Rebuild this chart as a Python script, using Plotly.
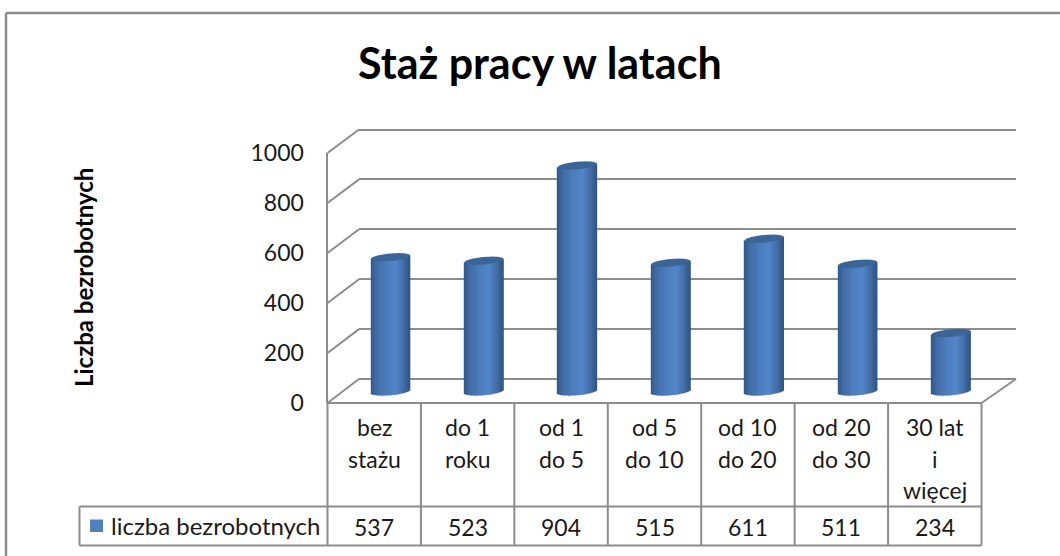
import math
import plotly.graph_objects as go

CATEGORY_LINES = [["bez", "stażu"], ["do 1", "roku"], ["od 1", "do 5"], ["od 5", "do 10"],
                  ["od 10", "do 20"], ["od 20", "do 30"], ["30 lat", "i", "więcej"]]
VALUES = [537, 523, 904, 515, 611, 511, 234]
SERIES_NAME = "liczba bezrobotnych"
TITLE = "Staż pracy w latach"
Y_TITLE = "Liczba bezrobotnych"
Y_TICKS = [0, 200, 400, 600, 800, 1000]

W, H = 1060, 556
FONT = "Lato"
GRID = "#8c8c8c"
TXT = "#1a1a1a"


def fx(p):
    return p / W


def fy(p):
    return 1 - p / H


STOPS = [(0.0, (50, 88, 135)), (0.15, (66, 108, 165)), (0.4, (76, 125, 190)),
         (0.65, (82, 133, 200)), (0.85, (66, 108, 165)), (1.0, (48, 84, 128))]


def shade(f):
    for (a, ca), (b, cb) in zip(STOPS, STOPS[1:]):
        if f <= b:
            k = (f - a) / (b - a)
            c = [round(ca[i] + (cb[i] - ca[i]) * k) for i in range(3)]
            return f"rgb({c[0]},{c[1]},{c[2]})"
    return "rgb(48,84,128)"


HALF = 0.21      # half bar width in category units
CAP_H = 15       # ellipse half height in value units
TILT = 7         # ellipse tilt in value units
N = 26

fig = go.Figure()
xs = list(range(len(VALUES)))
# keeps the back-wall axes alive so that their gridlines are drawn
fig.add_trace(go.Scatter(x=xs, y=VALUES, mode="markers", marker=dict(opacity=0),
                         xaxis="x", yaxis="y", showlegend=False, hoverinfo="skip"))
for i in range(N):
    t0 = -1 + 2 * i / N
    t1 = -1 + 2 * (i + 1) / N
    tm = (t0 + t1) / 2
    base = -CAP_H * math.sqrt(max(0, 1 - tm * tm)) + TILT * tm
    fig.add_trace(go.Bar(
        x=xs, y=[v + TILT * tm - base for v in VALUES], base=base,
        offset=HALF * t0, width=HALF * (t1 - t0) * 1.12,
        marker=dict(color=shade((tm + 1) / 2), line=dict(width=0)),
        xaxis="x3", yaxis="y3", showlegend=False, hoverinfo="skip"))

shapes = []


def line(x0, y0, x1, y1, xref="paper", yref="paper", width=2):
    shapes.append(dict(type="line", x0=x0, y0=y0, x1=x1, y1=y1, xref=xref, yref=yref,
                       line=dict(color=GRID, width=width), layer="below"))


# chart frame
line(fx(6), fy(13), fx(1060), fy(13), width=2.5)
line(fx(6), fy(13), fx(6), fy(556), width=2.5)

# wall / floor diagonals
FRONT_L, FRONT_R, BACK_L, BACK_R = 327.5, 981.5, 359, 1016
for v in Y_TICKS:
    f = v / 1000
    line(fx(FRONT_L), fy(403 - 250 * f), fx(BACK_L), fy(379 - 249.5 * f))
line(fx(FRONT_R), fy(403), fx(BACK_R), fy(379))

# data table
T_MID, T_BOT = 506.5, 545.5
BAND = (FRONT_R - FRONT_L) / len(VALUES)
for k in range(len(VALUES) + 1):
    px = FRONT_L + k * BAND
    line(fx(px), fy(403), fx(px), fy(T_BOT))
line(fx(FRONT_L), fy(403), fx(FRONT_R), fy(403))
line(fx(79.5), fy(T_MID), fx(FRONT_R), fy(T_MID))
line(fx(79.5), fy(T_BOT), fx(FRONT_R), fy(T_BOT))
line(fx(79.5), fy(T_MID), fx(79.5), fy(T_BOT))
shapes.append(dict(type="rect", x0=fx(90), x1=fx(103), y0=fy(519.5), y1=fy(532),
                   xref="paper", yref="paper", fillcolor="#4f81bd", line=dict(width=0)))

# cylinder tops
for x, v in zip(xs, VALUES):
    pts = []
    for j in range(40):
        a = 2 * math.pi * j / 40
        pts.append((x + HALF * math.cos(a), v + CAP_H * math.sin(a) + TILT * math.cos(a)))
    path = "M" + " L".join(f"{p:.4f},{q:.2f}" for p, q in pts) + " Z"
    shapes.append(dict(type="path", path=path, xref="x3", yref="y3",
                       fillcolor="#3a6596", line=dict(width=0), layer="above"))

TS = 23
ann = []
for x, lines_, v in zip(xs, CATEGORY_LINES, VALUES):
    for n, s in enumerate(lines_):
        ann.append(dict(x=x, xref="x2", y=fy(427 + 31.5 * n), yref="paper", text=s, showarrow=False,
                        xanchor="center", yanchor="middle", font=dict(family=FONT, size=TS, color=TXT)))
    ann.append(dict(x=x, xref="x2", y=fy(527), yref="paper", text=str(v), showarrow=False,
                    xanchor="center", yanchor="middle", font=dict(family=FONT, size=TS, color=TXT)))
ann.append(dict(x=fx(109), y=fy(525.5), xref="paper", yref="paper", text=SERIES_NAME, showarrow=False,
                xanchor="left", yanchor="middle", font=dict(family=FONT, size=24, color=TXT)))
ann.append(dict(x=fx(83), y=fy(278), xref="paper", yref="paper", text=f"<b>{Y_TITLE}</b>", showarrow=False,
                textangle=-90, xanchor="center", yanchor="middle", font=dict(family=FONT, size=24, color="#000")))
ann.append(dict(x=fx(540), y=fy(63), xref="paper", yref="paper", text=f"<b>{TITLE}</b>", showarrow=False,
                xanchor="center", yanchor="middle", font=dict(family=FONT, size=43, color="#000")))

xr = [-0.5, len(VALUES) - 0.5]
hidden = dict(showgrid=False, zeroline=False, showticklabels=False, ticks="", showline=False)
fig.update_layout(
    width=W, height=H, margin=dict(l=0, r=0, t=0, b=0, autoexpand=False),
    paper_bgcolor="white", plot_bgcolor="rgba(0,0,0,0)",
    barmode="overlay", showlegend=False,
    shapes=shapes, annotations=ann,
    # back wall gridlines (range padded so the 0 and 1000 lines are drawn too)
    xaxis=dict(domain=[fx(BACK_L), fx(BACK_R)], range=xr, anchor="y", **hidden),
    yaxis=dict(domain=[fy(379 + 2.495), fy(129.5 - 2.495)], range=[-10, 1010], anchor="x", tickvals=Y_TICKS,
               showgrid=True, gridcolor=GRID, gridwidth=2, zeroline=False, showticklabels=False, ticks="", showline=False),
    # front value axis
    xaxis2=dict(domain=[fx(FRONT_L), fx(FRONT_R)], range=xr, anchor="y2", **hidden),
    yaxis2=dict(domain=[fy(403), fy(153)], range=[0, 1000], anchor="x2", tickvals=Y_TICKS, showgrid=False, zeroline=False,
                showline=True, linecolor=GRID, linewidth=2, ticks="outside", ticklen=17, tickcolor="rgba(0,0,0,0)",
                tickfont=dict(family=FONT, size=TS, color=TXT)),
    # bars, placed mid-depth
    xaxis3=dict(domain=[fx(FRONT_L + 16.3), fx(FRONT_R + 16.3)], range=xr, anchor="y3", **hidden),
    yaxis3=dict(domain=[fy(391.5 + 15), fy(141.5)], range=[-60, 1000], anchor="x3", **hidden),
)
fig.write_html("out.html", post_script="document.body.style.margin='0';", config=dict(displayModeBar=False))
